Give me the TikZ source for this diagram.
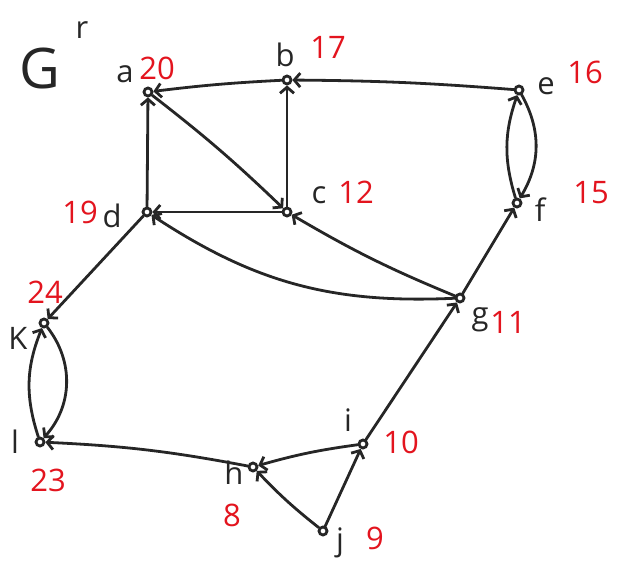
\documentclass[tikz,border=0pt]{standalone}
\usepackage{fontspec}
\setmainfont{Open Sans}
\usetikzlibrary{arrows.meta}
\definecolor{ink}{HTML}{262626}
\definecolor{numred}{HTML}{E3141E}
\begin{document}
\begin{tikzpicture}[x=1pt,y=-1pt,
  vtx/.style={circle,draw=ink,line width=2.8pt,inner sep=0pt,minimum size=8pt},
  edge/.style={draw=ink,line width=2.8pt,line cap=round,
    -{Straight Barb[length=6pt,width=14pt,line width=2.8pt]}},
  lab/.style={text=ink,inner sep=0pt,font=\fontsize{31}{31}\selectfont},
  num/.style={text=numred,inner sep=0pt,font=\fontsize{31}{31}\selectfont}]
\useasboundingbox (0,0) rectangle (621,562);

% vertices
\node[vtx] (a) at (148,92) {};
\node[vtx] (b) at (287,80) {};
\node[vtx] (c) at (287,212) {};
\node[vtx] (d) at (147,212) {};
\node[vtx] (e) at (519,90) {};
\node[vtx] (f) at (517,203) {};
\node[vtx] (g) at (460,298) {};
\node[vtx] (k) at (44,323) {};
\node[vtx] (l) at (40,442) {};
\node[vtx] (h) at (253,467) {};
\node[vtx] (i) at (363,444) {};
\node[vtx] (j) at (323,531) {};

% vertex names
\node[lab] (ta) at (125,74) {a};
\node[lab] (tb) at (285,55) {b};
\node[lab] (tc) at (319,195) {c};
\node[lab] (td) at (112,216) {d};
\node[lab] (te) at (546,86) {e};
\node[lab] (tf) at (540,210) {f};
\node[lab] (tg) at (480,320) {g};
\node[lab] (tk) at (18,338) {K};
\node[lab] (tl) at (15,442) {l};
\node[lab] (th) at (234,473) {h};
\node[lab] (ti) at (348,420) {i};
\node[lab] (tj) at (340,543) {j};

% numbers
\node[num] (na) at (157,68) {20};
\node[num] (nb) at (328,47) {17};
\node[num] (nc) at (356,192) {12};
\node[num] (nd) at (80,212) {19};
\node[num] (ne) at (585,72) {16};
\node[num] (nf) at (591,193) {15};
\node[num] (ng) at (508,322) {11};
\node[num] (nk) at (45,292) {24};
\node[num] (nl) at (48,480) {23};
\node[num] (nh) at (232,515) {8};
\node[num] (ni) at (401,442) {10};
\node[num] (nj) at (375,538) {9};

% title
\node[lab,font=\fontsize{56}{56}\selectfont] (title) at (40,68) {G};
\node[lab] (sup) at (82,30) {r};

% edges
\draw[edge] (b) to[bend right=2] (a);
\draw[edge] (d) -- (a);
\draw[edge] (a) to[bend left=3] (c);
\draw[edge] (c) -- (b);
\draw[edge] (e) to[bend right=2] (b);
\draw[edge] (c) -- (d);
\draw[edge] (g) to[bend left=4] (c);
\draw[edge] (g) to[bend left=18] (d);
\draw[edge] (d) -- (k);
\draw[edge] (k) to[bend left=40] (l);
\draw[edge] (l) to[bend left=20] (k);
\draw[edge] (e) to[bend left=30] (f);
\draw[edge] (f) to[bend left=18] (e);
\draw[edge] (g) -- (f);
\draw[edge] (i) -- (g);
\draw[edge] (i) to[bend right=4] (h);
\draw[edge] (j) to[bend left=4] (h);
\draw[edge] (j) -- (i);
\draw[edge] (h) to[bend right=4] (l);
\end{tikzpicture}
\end{document}
